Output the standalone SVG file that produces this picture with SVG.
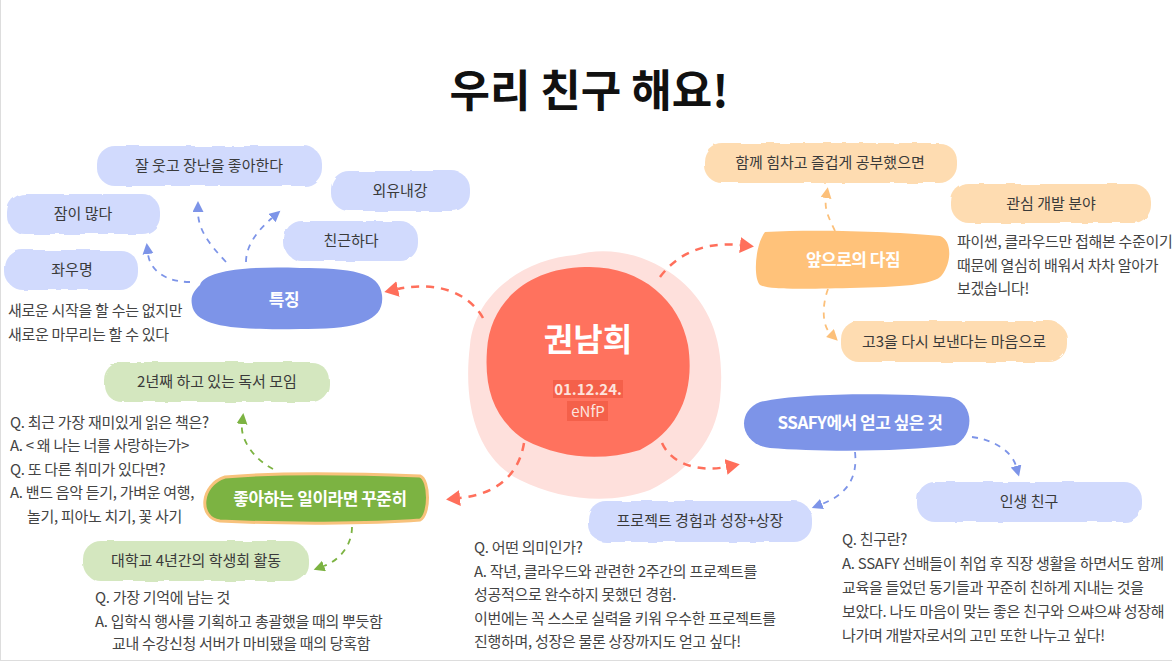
<svg xmlns="http://www.w3.org/2000/svg" width="1172" height="662" viewBox="0 0 1172 662">
<defs>
<style>
text{font-family:"Noto Sans CJK KR","Noto Sans",sans-serif;}
.title{font-size:44px;font-weight:700;fill:#111;text-anchor:middle;}
.lbl{font-size:15px;fill:#3a3a3a;text-anchor:middle;}
.hd{font-size:17px;font-weight:700;fill:#fff;text-anchor:middle;letter-spacing:-0.5px;}
.note{font-size:15px;fill:#444;letter-spacing:-0.3px;}
.lb{fill:#D1DAFD;}
.lo{fill:#FEDCB1;}
.lg{fill:#D4E7BF;}
.dr{fill:none;stroke:#FF6F5B;stroke-width:2.5;stroke-dasharray:8 7;}
.db{fill:none;stroke:#7D94E8;stroke-width:1.8;stroke-dasharray:6 6;}
.do{fill:none;stroke:#FCC07A;stroke-width:1.8;stroke-dasharray:6 6;}
.dg{fill:none;stroke:#7CB342;stroke-width:1.8;stroke-dasharray:6 6;}
</style>
<filter id="rough" x="-5%" y="-20%" width="110%" height="140%">
<feTurbulence type="fractalNoise" baseFrequency="0.05" numOctaves="2" seed="3"/>
<feDisplacementMap in="SourceGraphic" scale="4"/>
</filter>
<marker id="ar" markerUnits="userSpaceOnUse" markerWidth="16" markerHeight="18" refX="0" refY="8" orient="auto"><path d="M0,0 L14,8 L0,16 z" fill="#FF6F5B"/></marker>
<marker id="ab" markerUnits="userSpaceOnUse" markerWidth="12" markerHeight="12" refX="0" refY="5.5" orient="auto"><path d="M0,0 L11,5.5 L0,11 z" fill="#7D94E8"/></marker>
<marker id="ao" markerUnits="userSpaceOnUse" markerWidth="12" markerHeight="12" refX="0" refY="5.5" orient="auto"><path d="M0,0 L11,5.5 L0,11 z" fill="#FCC07A"/></marker>
<marker id="ag" markerUnits="userSpaceOnUse" markerWidth="12" markerHeight="12" refX="0" refY="5.5" orient="auto"><path d="M0,0 L11,5.5 L0,11 z" fill="#7CB342"/></marker>
</defs>
<rect width="1172" height="662" fill="#fff"/>
<line x1="0.5" y1="0" x2="0.5" y2="660" stroke="#ddd"/>
<line x1="0" y1="660.5" x2="1172" y2="660.5" stroke="#ddd"/>

<text class="title" x="589" y="107">우리 친구 해요!</text>

<g id="center">
<path fill="#FEE0DC" d="M470,345 C475,290 530,258 575,255 C610,245 650,255 680,280 C715,310 725,350 720,400 C715,440 690,470 650,490 C610,505 560,500 520,480 C480,460 462,410 470,345 Z"/>
<path fill="#FF725E" d="M487,350 C490,300 530,268 585,267 C640,265 680,300 688,345 C695,390 680,430 640,450 C600,462 560,458 525,440 C495,420 484,390 487,350 Z"/>
<text x="588" y="351" style="font-size:32px;font-weight:700;fill:#fff;text-anchor:middle;">권남희</text>
<rect x="553" y="380" width="70" height="18" fill="#F4604A"/>
<rect x="567" y="401" width="41" height="20" fill="#F4604A"/>
<text x="588" y="395" style="font-size:15px;font-weight:700;fill:#FDE3DD;text-anchor:middle;">01.12.24.</text>
<text x="588" y="417" style="font-size:15px;fill:#FDE3DD;text-anchor:middle;">eNfP</text>
</g>

<g id="connectors">
<path class="dr" d="M483,318 C470,295 440,280 398,289" marker-end="url(#ar)"/>
<path class="dr" d="M660,277 C680,250 710,242 740,245" marker-end="url(#ar)"/>
<path class="dr" d="M662,443 C672,465 700,472 726,467" marker-end="url(#ar)"/>
<path class="dr" d="M524,443 C518,480 490,495 460,498" marker-end="url(#ar)"/>
<path class="db" d="M190,282 C165,282 150,270 148,254" marker-end="url(#ab)"/>
<path class="db" d="M226,262 C210,245 198,230 198,212" marker-end="url(#ab)"/>
<path class="db" d="M246,262 C246,245 258,230 272,218" marker-end="url(#ab)"/>
<path class="do" d="M835,231 C830,220 824,210 826,198" marker-end="url(#ao)"/>
<path class="do" d="M828,289 C822,305 822,325 830,333" marker-end="url(#ao)"/>
<path class="db" d="M972,437 C995,440 1012,452 1016,466" marker-end="url(#ab)"/>
<path class="db" d="M855,452 C858,480 845,495 822,504" marker-end="url(#ab)"/>
<path class="dg" d="M273,469 C255,460 240,440 242,424" marker-end="url(#ag)"/>
<path class="dg" d="M352,527 C352,545 340,560 324,566" marker-end="url(#ag)"/>
</g>

<g id="feature">
<path fill="#7D94E8" d="M200,285 C205,270 250,266 300,268 C350,268 380,272 382,295 C385,320 360,330 300,329 C240,330 195,328 192,305 C190,295 195,290 200,285 Z"/>
<text class="hd" x="284" y="306">특징</text>
</g>
<g id="f1"><rect class="lb" x="97" y="146" width="225" height="40" rx="18" filter="url(#rough)"/><text class="lbl" x="209" y="171">잘 웃고 장난을 좋아한다</text></g>
<g id="f2"><rect class="lb" x="331" y="171" width="139" height="40" rx="18" filter="url(#rough)"/><text class="lbl" x="400" y="196">외유내강</text></g>
<g id="f3"><rect class="lb" x="7" y="194" width="153" height="40" rx="18" filter="url(#rough)"/><text class="lbl" x="83" y="219">잠이 많다</text></g>
<g id="f4"><rect class="lb" x="284" y="221" width="134" height="40" rx="18" filter="url(#rough)"/><text class="lbl" x="351" y="246">친근하다</text></g>
<g id="f5"><rect class="lb" x="5" y="250" width="133" height="40" rx="18" filter="url(#rough)"/><text class="lbl" x="72" y="275">좌우명</text>
<text class="note" x="8" y="316">새로운 시작을 할 수는 없지만</text>
<text class="note" x="8" y="340">새로운 마무리는 할 수 있다</text></g>

<g id="resolve">
<path fill="#FFC27A" d="M765,232 C820,229 900,232 940,236 C952,240 952,262 942,275 C935,285 900,287 850,288 C800,289 770,290 760,285 C753,278 755,245 765,232 Z"/>
<text class="hd" x="853" y="266">앞으로의 다짐</text>
</g>
<g id="r1"><rect class="lo" x="704" y="143" width="253" height="40" rx="18" filter="url(#rough)"/><text class="lbl" x="830" y="168">함께 힘차고 즐겁게 공부했으면</text></g>
<g id="r2"><rect class="lo" x="951" y="184" width="200" height="39" rx="18" filter="url(#rough)"/><text class="lbl" x="1051" y="209">관심 개발 분야</text>
<text class="note" x="957" y="247">파이썬, 클라우드만 접해본 수준이기</text>
<text class="note" x="957" y="271">때문에 열심히 배워서 차차 알아가</text>
<text class="note" x="957" y="294">보겠습니다!</text></g>
<g id="r3"><rect class="lo" x="841" y="321" width="226" height="41" rx="18" filter="url(#rough)"/><text class="lbl" x="954" y="347">고3을 다시 보낸다는 마음으로</text></g>

<g id="ssafy">
<path fill="#7D94E8" d="M760,402 C800,392 900,393 950,397 C975,402 975,435 955,445 C900,452 820,452 770,448 C740,445 735,412 760,402 Z"/>
<text class="hd" x="860" y="429">SSAFY에서 얻고 싶은 것</text>
</g>
<g id="s1"><rect class="lb" x="588" y="501" width="224" height="41" rx="18" filter="url(#rough)"/><text class="lbl" x="700" y="526">프로젝트 경험과 성장+상장</text>
<text class="note" x="474" y="553">Q. 어떤 의미인가?</text>
<text class="note" x="474" y="577">A. 작년, 클라우드와 관련한 2주간의 프로젝트를</text>
<text class="note" x="474" y="600">성공적으로 완수하지 못했던 경험.</text>
<text class="note" x="474" y="624">이번에는 꼭 스스로 실력을 키워 우수한 프로젝트를</text>
<text class="note" x="474" y="647">진행하며, 성장은 물론 상장까지도 얻고 싶다!</text></g>
<g id="s2"><rect class="lb" x="917" y="482" width="225" height="40" rx="18" filter="url(#rough)"/><text class="lbl" x="1029" y="507">인생 친구</text>
<text class="note" x="842" y="545">Q. 친구란?</text>
<text class="note" x="842" y="569">A. SSAFY 선배들이 취업 후 직장 생활을 하면서도 함께</text>
<text class="note" x="842" y="593">교육을 들었던 동기들과 꾸준히 친하게 지내는 것을</text>
<text class="note" x="842" y="617">보았다. 나도 마음이 맞는 좋은 친구와 으쌰으쌰 성장해</text>
<text class="note" x="842" y="641">나가며 개발자로서의 고민 또한 나누고 싶다!</text></g>

<g id="hobby">
<path fill="#7CB342" stroke="#F8C27C" stroke-width="3" d="M225,477 C280,472 370,474 420,476 C430,480 430,515 420,520 C370,524 280,524 220,521 C198,518 200,485 225,477 Z"/>
<text class="hd" x="320" y="505">좋아하는 일이라면 꾸준히</text>
</g>
<g id="h1"><rect class="lg" x="104" y="362" width="225" height="40" rx="18" filter="url(#rough)"/><text class="lbl" x="217" y="387">2년째 하고 있는 독서 모임</text>
<text class="note" x="10" y="428">Q. 최근 가장 재미있게 읽은 책은?</text>
<text class="note" x="10" y="451">A. &lt; 왜 나는 너를 사랑하는가&gt;</text>
<text class="note" x="10" y="475">Q. 또 다른 취미가 있다면?</text>
<text class="note" x="10" y="498">A. 밴드 음악 듣기, 가벼운 여행,</text>
<text class="note" x="27" y="522">놀기, 피아노 치기, 꽃 사기</text></g>
<g id="h2"><rect class="lg" x="83" y="541" width="225" height="40" rx="18" filter="url(#rough)"/><text class="lbl" x="196" y="566">대학교 4년간의 학생회 활동</text>
<text class="note" x="95" y="603">Q. 가장 기억에 남는 것</text>
<text class="note" x="95" y="627">A. 입학식 행사를 기획하고 총괄했을 때의 뿌듯함</text>
<text class="note" x="112" y="649">교내 수강신청 서버가 마비됐을 때의 당혹함</text></g>
</svg>
